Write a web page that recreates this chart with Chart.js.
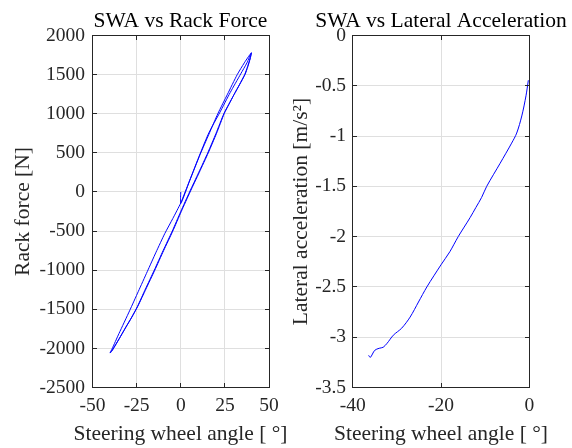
<!DOCTYPE html>
<html>
<head>
<meta charset="utf-8">
<script src="https://cdn.jsdelivr.net/npm/chart.js@4.4.0/dist/chart.umd.min.js"></script>
<style>
  html, body { margin: 0; padding: 0; background: #fff; overflow: hidden; }
  #wrap { position: relative; width: 572px; height: 448px; overflow: hidden; }
  canvas { position: absolute; top: 0; }
  #rackChart { left: 0; }
  #latChart { left: 286px; }
</style>
</head>
<body>
<div id="wrap">
  <canvas id="rackChart" width="361" height="448"></canvas>
  <canvas id="latChart" width="310" height="448"></canvas>
</div>
<script>
// steering wheel angle [deg] vs rack force [N], two loops
const rackSwa = [
  0, 0, 5, 11, 16, 21, 26.5, 32, 36, 39, 40,
  39.3, 38.0, 36.4, 33.3, 30.2, 27.2, 24.4, 20, 15.3, 10.2, 5, 0, -4.8, -10, -15, -20, -24.6, -28, -31.5, -35, -38.5, -40,
  -39, -35, -29, -24, -19, -14, -9, -4.5, 0, 5, 11, 16, 22, 28, 34, 37.5, 40,
  39.2, 37.8, 36.2, 33.2, 30.2, 27.3, 24.6, 20.3, 15.6, 10.5, 5.3, 0.3, -4.5, -9.7, -14.7, -19.7, -24.3, -27.7, -31.2, -34.8, -38.6, -40
];
const rackForce = [
  0, -150, 140, 480, 740, 1000, 1250, 1500, 1650, 1750, 1775,
  1700, 1600, 1500, 1370, 1245, 1120, 1000, 750, 500, 250, 0, -250, -500, -750, -1000, -1240, -1467, -1610, -1742, -1880, -2010, -2055,
  -2010, -1810, -1520, -1270, -1020, -770, -530, -340, -140, 145, 490, 760, 1010, 1270, 1510, 1650, 1780,
  1700, 1600, 1500, 1370, 1245, 1120, 1000, 750, 500, 250, 0, -250, -500, -750, -1000, -1240, -1460, -1600, -1735, -1875, -2020, -2060
];

// steering wheel angle [deg] vs lateral acceleration [m/s2]
const latSwa = [-36.4, -36.0, -35.0, -34.0, -33.1, -32.2, -30.8, -28.9, -27.0, -25.1, -23.2, -20.0, -18.0, -16.1, -13.4, -12.1, -10.8, -9.65, -6.6, -4.0, -2.85, -1.7, -0.75, -0.22];
const latAcc = [-3.18, -3.20, -3.13, -3.11, -3.10, -3.06, -2.98, -2.91, -2.80, -2.65, -2.50, -2.28, -2.15, -2.00, -1.81, -1.71, -1.61, -1.50, -1.27, -1.07, -0.97, -0.80, -0.60, -0.445];

const rackXTicks = [-50, -25, 0, 25, 50];
const rackYTicks = [-2500, -2000, -1500, -1000, -500, 0, 500, 1000, 1500, 2000];
const latXTicks = [-40, -20, 0];
const latYTicks = [-3.5, -3, -2.5, -2, -1.5, -1, -0.5, 0];

const serif = "'Liberation Serif', 'Times New Roman', serif";
const axisColor = "#262626";

// matlab style box with inward ticks on all four sides
const axesBox = {
  id: "axesBox",
  afterDraw(chart) {
    const { ctx, chartArea: a, scales } = chart;
    const px = (v) => Math.floor(v) + 0.5;
    const len = 4.5;
    const l = px(a.left), r = px(a.right), t = px(a.top), b = px(a.bottom);
    ctx.save();
    ctx.strokeStyle = axisColor;
    ctx.lineWidth = 1;
    ctx.strokeRect(l, t, r - l, b - t);
    ctx.beginPath();
    scales.x.ticks.forEach((tk) => {
      const x = px(scales.x.getPixelForValue(tk.value));
      ctx.moveTo(x, b); ctx.lineTo(x, b - len);
      ctx.moveTo(x, t); ctx.lineTo(x, t + len);
    });
    scales.y.ticks.forEach((tk) => {
      const y = px(scales.y.getPixelForValue(tk.value));
      ctx.moveTo(l, y); ctx.lineTo(l + len, y);
      ctx.moveTo(r, y); ctx.lineTo(r - len, y);
    });
    ctx.stroke();
    ctx.restore();
  }
};

function makeChart(id, xs, ys, xTicks, yTicks, title, xTitle, yTitle, yWidth, rightWidth, yTitlePad, yTickPad, tension) {
  return new Chart(document.getElementById(id), {
    type: "scatter",
    data: {
      datasets: [{
        data: xs.map((x, i) => ({ x: x, y: ys[i] })),
        showLine: true,
        borderColor: "#0000ff",
        borderWidth: 1,
        pointRadius: 0,
        tension: tension,
      }],
    },
    options: {
      responsive: false,
      animation: false,
      plugins: {
        legend: { display: false },
        tooltip: { enabled: false },
        title: {
          display: true,
          text: title,
          color: "#000",
          font: { family: serif, size: 21.5, weight: "normal" },
          padding: { top: 8.8, bottom: 0.9 },
        },
        // x axis label, drawn as a bottom subtitle so it is not squeezed
        subtitle: {
          display: true,
          position: "bottom",
          text: xTitle,
          color: axisColor,
          font: { family: serif, size: 21.5, weight: "normal" },
          padding: { top: 2.1, bottom: 0.6 },
        },
      },
      scales: {
        x: {
          type: "linear",
          min: xTicks[0],
          max: xTicks[xTicks.length - 1],
          afterBuildTicks: (s) => { s.ticks = xTicks.map((v) => ({ value: v })); },
          afterFit: (s) => { s.height = 32; },
          grid: { color: "#dfdfdf", lineWidth: 1, drawTicks: false },
          border: { display: false },
          ticks: {
            color: axisColor,
            padding: 6.6,
            maxRotation: 0,
            font: { family: serif, size: 19.5 },
            callback: (v) => String(v),
          },
        },
        y: {
          type: "linear",
          min: yTicks[0],
          max: yTicks[yTicks.length - 1],
          afterBuildTicks: (s) => { s.ticks = yTicks.map((v) => ({ value: v })); },
          afterFit: (s) => { s.width = yWidth; },
          grid: { color: "#dfdfdf", lineWidth: 1, drawTicks: false },
          border: { display: false },
          ticks: {
            color: axisColor,
            padding: yTickPad,
            font: { family: serif, size: 19.5 },
            callback: (v) => String(v),
          },
          title: {
            display: true,
            text: yTitle,
            color: axisColor,
            font: { family: serif, size: 21.5 },
            padding: { top: yTitlePad, bottom: 0 },
          },
        },
        // empty right axis, only reserves space so titles centre on the plot
        yRight: {
          type: "linear",
          position: "right",
          min: yTicks[0],
          max: yTicks[yTicks.length - 1],
          afterFit: (s) => { s.width = rightWidth; },
          grid: { display: false },
          border: { display: false },
          ticks: { display: false },
        },
      },
    },
    plugins: [axesBox],
  });
}

makeChart("rackChart", rackSwa, rackForce, rackXTicks, rackYTicks,
  "SWA vs Rack Force", "Steering wheel angle [ °]", "Rack force [N]",
  92.5, 92, 10.1, 7.5, 0.2);

makeChart("latChart", latSwa, latAcc, latXTicks, latYTicks,
  "SWA vs Lateral Acceleration", "Steering wheel angle [ °]", "Lateral acceleration [m/s²]",
  66.7, 66.7, 2.1, 6.7, 0.3);
</script>
</body>
</html>
